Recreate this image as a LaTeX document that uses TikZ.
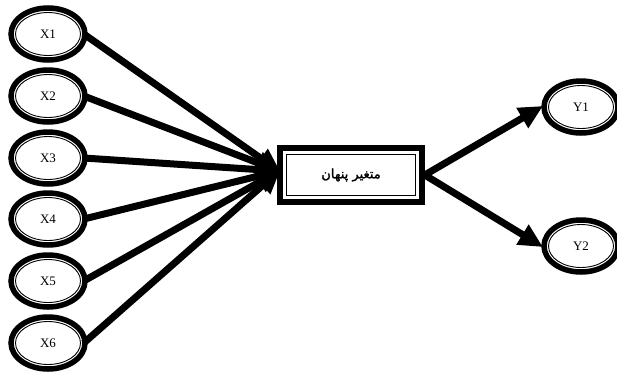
\documentclass[tikz,border=0pt]{standalone}
\usepackage{fontspec}
\setmainfont{Liberation Serif}
\newfontfamily\arabicfont[Script=Arabic,BoldFont=DejaVu Sans,BoldFeatures={FakeBold=1.5}]{DejaVu Sans}
\TeXXeTstate=1
\usetikzlibrary{arrows.meta,shapes.geometric}
\tikzset{
  var/.style={ellipse, draw, line width=5.5pt, minimum width=74pt, minimum height=52pt, inner sep=0pt, font=\fontsize{13}{15}\selectfont},
  latent/.style={rectangle, draw, line width=5.5pt, minimum width=142pt, minimum height=54pt, inner sep=0pt, font=\arabicfont\bfseries\fontsize{13}{15}\selectfont},
  inring/.style={line width=0.9pt},
  conn/.style={line width=7pt, -{Triangle[length=24pt,width=22pt]}, shorten >=-2pt}
}
\begin{document}
\begin{tikzpicture}[x=1pt,y=-1pt]
\useasboundingbox (0,0) rectangle (617,375);
\foreach \i/\yy in {1/34,2/96,3/158,4/219,5/281,6/343}{
  \node[var] (X\i) at (48,\yy) {X\i};
  \draw[inring] (X\i.center) ellipse [x radius=32.5pt, y radius=21.5pt];
}
\node[latent] (L) at (351,175) {\beginR متغير پنهان\endR};
\draw[inring] ([xshift=9pt,yshift=-9pt]L.north west) rectangle ([xshift=-9pt,yshift=9pt]L.south east);
\node[var] (Y1) at (581,107) {Y1};
\draw[inring] (Y1.center) ellipse [x radius=32.5pt, y radius=21.5pt];
\node[var] (Y2) at (581,246) {Y2};
\draw[inring] (Y2.center) ellipse [x radius=32.5pt, y radius=21.5pt];
\coordinate (tip) at (279,171);
\foreach \i in {1,...,6}{
  \draw[conn] ([xshift=-4pt]X\i.east) -- (tip);
}
\draw[conn] (L.east) -- (Y1.west);
\draw[conn] (L.east) -- (Y2.west);
\end{tikzpicture}
\end{document}
